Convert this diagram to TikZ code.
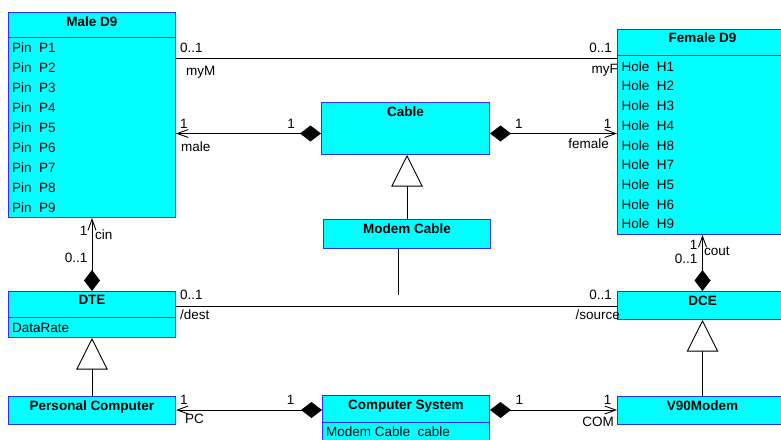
\documentclass[tikz,border=0pt]{standalone}
\usepackage{fontspec}
\setmainfont{Liberation Sans}
\usetikzlibrary{arrows.meta}
\definecolor{umlcyan}{RGB}{0,255,255}
\definecolor{umlblue}{RGB}{45,45,255}

\begin{document}
\begin{tikzpicture}[x=1pt,y=-1pt,
  every node/.style={inner sep=0pt,font=\fontsize{13.5}{20}\selectfont},
  cls/.style 2 args={draw=umlblue,fill=umlcyan,line width=1pt,anchor=north west,minimum width=#1,minimum height=#2},
  ttl/.style={anchor=base,font=\fontsize{13.5}{16}\selectfont\bfseries},
  attr/.style={anchor=north west,align=left},
  sepl/.style={draw=umlblue,line width=1pt},
  assoc/.style={draw=black,line width=0.9pt},
  openv/.tip={Straight Barb[length=11pt,width=8pt]},
  compd/.tip={Diamond[length=21pt,width=16pt]},
  genh/.tip={Triangle[length=31.5pt,width=31.5pt,fill=white]}]
  \useasboundingbox (0,0) rectangle (781,439);

  \node[cls={167pt}{205pt}] (maled9) at (8,12) {};
  \node[ttl] (maletitle) at ([yshift=-14.5pt]maled9.north) {Male D9};
  \draw[sepl] ([yshift=-25pt]maled9.north west) -- ([yshift=-25pt]maled9.north east);
  \node[attr] (pins) at ([xshift=4pt,yshift=-30.3pt]maled9.north west) {Pin\ \ P1\\Pin\ \ P2\\Pin\ \ P3\\Pin\ \ P4\\Pin\ \ P5\\Pin\ \ P6\\Pin\ \ P7\\Pin\ \ P8\\Pin\ \ P9};

  \node[cls={170pt}{205pt}] (femaled9) at (617,29) {};
  \node[ttl] (femaletitle) at ([yshift=-13pt]femaled9.north) {Female D9};
  \draw[sepl] ([yshift=-26pt]femaled9.north west) -- ([yshift=-26pt]femaled9.north east);
  \node[attr,font=\fontsize{13.5}{19.7}\selectfont] (holes) at ([xshift=4.5pt,yshift=-32.3pt]femaled9.north west) {Hole\ \ H1\\Hole\ \ H2\\Hole\ \ H3\\Hole\ \ H4\\Hole\ \ H8\\Hole\ \ H7\\Hole\ \ H5\\Hole\ \ H6\\Hole\ \ H9};

  \node[cls={168pt}{52pt}] (cable) at (321,102) {};
  \node[ttl] (cabletitle) at ([yshift=-14.5pt]cable.north) {Cable};
  \node[cls={167pt}{29pt}] (modemcable) at (323,219) {};
  \node[ttl] (modemtitle) at ([yshift=-14pt]modemcable.north) {Modem Cable};

  \node[cls={167pt}{46pt}] (dte) at (8,291) {};
  \node[ttl] (dtetitle) at ([yshift=-13pt]dte.north) {DTE};
  \draw[sepl] ([yshift=-26pt]dte.north west) -- ([yshift=-26pt]dte.north east);
  \node[attr] (datarate) at ([xshift=4pt,yshift=-32pt]dte.north west) {DataRate};

  \node[cls={170pt}{28pt}] (dce) at (617,291) {};
  \node[ttl] (dcetitle) at ([yshift=-14pt]dce.north) {DCE};

  \node[cls={167pt}{28pt}] (pc) at (8,396) {};
  \node[ttl] (pctitle) at ([yshift=-14pt]pc.north) {Personal Computer};

  \node[cls={167pt}{60pt}] (compsys) at (322,395) {};
  \node[ttl] (compsystitle) at ([yshift=-14.3pt]compsys.north) {Computer System};
  \draw[sepl] ([yshift=-27pt]compsys.north west) -- ([yshift=-27pt]compsys.north east);
  \node[attr] (cableattr) at ([xshift=4pt,yshift=-32pt]compsys.north west) {Modem Cable\ \ cable};

  \node[cls={170pt}{28pt}] (v90) at (617,396) {};
  \node[ttl] (v90title) at ([yshift=-14pt]v90.north) {V90Modem};

  \coordinate (mylink) at ([yshift=-46pt]maled9.north east);
  \draw[assoc] (mylink) -- (mylink -| femaled9.west);
  \coordinate (malelink) at ([yshift=-5pt]cable.west);
  \draw[assoc,openv-compd] (malelink -| maled9.east) -- (malelink);
  \coordinate (femlink) at ([yshift=-5pt]cable.east);
  \draw[assoc,compd-openv] (femlink) -- (femlink -| femaled9.west);
  \draw[assoc,-genh] (modemcable.north) -- (modemcable.north |- cable.south);
  \coordinate (mcend) at (398.5,295);
  \draw[assoc] (mcend |- modemcable.south) -- (mcend);
  \draw[assoc,openv-compd] (maled9.south) -- (dte.north);
  \draw[assoc,openv-compd] (femaled9.south) -- (dce.north);
  \coordinate (destlink) at ([yshift=-15pt]dte.north east);
  \draw[assoc] (destlink) -- (destlink -| dce.west);
  \draw[assoc,-genh] (pc.north) -- (dte.south);
  \draw[assoc,-genh] (v90.north) -- (dce.south);
  \coordinate (pclink) at ([yshift=-15pt]compsys.north west);
  \draw[assoc,openv-compd] (pclink -| pc.east) -- (pclink);
  \coordinate (comlink) at ([yshift=-15pt]compsys.north east);
  \draw[assoc,compd-openv] (comlink) -- (comlink -| v90.west);

  \node[anchor=base west] (mymult) at (180,52) {0..1};
  \node[anchor=base west] (myrole) at (186,75) {myM};
  \node[anchor=base east] (myfmult) at (612,52) {0..1};
  \node[anchor=base east] (myfrole) at (618,73) {myF};
  \node[anchor=base west] (malemult) at (180,128) {1};
  \node[anchor=base west] (malerole) at (181,151.5) {male};
  \node[anchor=base east] (cablemult) at (295,128) {1};
  \node[anchor=base west] (cablefmult) at (515,128) {1};
  \node[anchor=base east] (femmult) at (611.5,128) {1};
  \node[anchor=base east] (femrole) at (609,148) {female};
  \node[anchor=base east] (cinmult) at (87.5,235) {1};
  \node[anchor=base west] (cinrole) at (95,239) {cin};
  \node[anchor=base east] (dtemult) at (87.5,262.7) {0..1};
  \node[anchor=base east] (coutmult) at (697.5,249.5) {1};
  \node[anchor=base west] (coutrole) at (704,255) {cout};
  \node[anchor=base east] (dcemult) at (697.5,263.5) {0..1};
  \node[anchor=base west] (destmult) at (180,299.5) {0..1};
  \node[anchor=base west] (destrole) at (180,319) {/dest};
  \node[anchor=base east] (srcmult) at (612,299.5) {0..1};
  \node[anchor=base east] (srcrole) at (620,319.5) {/source};
  \node[anchor=base west] (pcmult) at (180,404.3) {1};
  \node[anchor=base west] (pcrole) at (185,423.3) {PC};
  \node[anchor=base east] (cspcmult) at (294.5,404.3) {1};
  \node[anchor=base west] (cscommult) at (515.5,404.3) {1};
  \node[anchor=base east] (commult) at (611.5,404.3) {1};
  \node[anchor=base east] (comrole) at (614,426.7) {COM};
\end{tikzpicture}
\end{document}
